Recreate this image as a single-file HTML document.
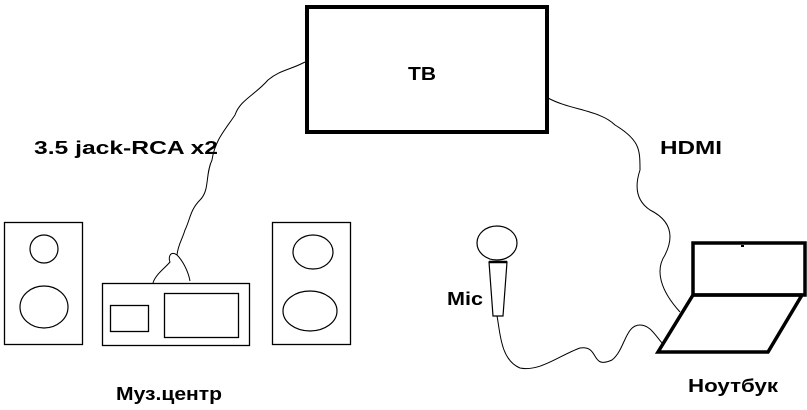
<!DOCTYPE html>
<html><head><style>
body{margin:0;background:#fff}
svg{display:block}
text{font-family:"Comic Sans MS","Liberation Sans",sans-serif;font-weight:bold;font-size:18px;fill:#000}
</style></head><body>
<svg width="807" height="410" viewBox="0 0 807 410">
<g fill="none" stroke="#000">
<rect x="307" y="7" width="240" height="125" stroke-width="4"/>
<rect x="4.5" y="222.5" width="78" height="122" stroke-width="1.3"/>
<ellipse cx="44" cy="249" rx="14" ry="14" stroke-width="1.2"/>
<ellipse cx="44" cy="307" rx="24" ry="21" stroke-width="1.2"/>
<rect x="102.5" y="283.5" width="147" height="62" stroke-width="1.3"/>
<rect x="110.5" y="305.5" width="38" height="26" stroke-width="1.3"/>
<rect x="164.5" y="293.5" width="74" height="44" stroke-width="1.3"/>
<rect x="272.5" y="222.5" width="78" height="122" stroke-width="1.3"/>
<ellipse cx="313" cy="252" rx="20" ry="17" stroke-width="1.2"/>
<ellipse cx="310" cy="311" rx="27" ry="20" stroke-width="1.2"/>
<ellipse cx="497" cy="243" rx="20" ry="17" stroke-width="1.2"/>
<path d="M489 262 L507 262 L503 316 L493 316 Z" stroke-width="1.2"/>
<line x1="489" y1="262" x2="507" y2="262" stroke-width="2.5"/>
<rect x="693" y="243" width="112" height="52" stroke-width="3.5"/>
<path d="M693 295 L802 295 L768 352 L658 352 Z" stroke-width="3.5"/>
<path d="M305 62 C290 70 280 70 268 80 C255 95 240 100 235 115 C225 130 215 140 212 160 C205 175 210 190 200 200 C190 210 190 220 185 230 C182 240 178 245 177 255 C170 250 168 258 170 262 C165 268 155 275 153 283" stroke-width="1"/>
<path d="M177 255 C182 260 188 270 190 281" stroke-width="1"/>
<path d="M548 98 C570 110 600 110 615 125 C640 140 640 150 640 170 C635 185 635 200 650 210 C670 220 675 235 665 255 C655 270 660 290 680 312" stroke-width="1"/>
<path d="M497 316 C500 330 500 360 520 368 C540 372 560 355 580 348 C600 345 590 370 612 360 C625 350 625 325 640 325 C650 325 655 335 662 343" stroke-width="1"/>
</g>
<rect x="741" y="245" width="3" height="2" fill="#000"/>
<text x="408" y="80" textLength="28" lengthAdjust="spacingAndGlyphs">TB</text>
<text x="34" y="154" textLength="184" lengthAdjust="spacingAndGlyphs">3.5 jack-RCA x2</text>
<text x="660" y="154" textLength="62" lengthAdjust="spacingAndGlyphs">HDMI</text>
<text x="447" y="305" textLength="36" lengthAdjust="spacingAndGlyphs">Mic</text>
<text x="116" y="400" textLength="106" lengthAdjust="spacingAndGlyphs">Муз.центр</text>
<text x="688" y="392" textLength="90" lengthAdjust="spacingAndGlyphs">Ноутбук</text>
</svg>
</body></html>
